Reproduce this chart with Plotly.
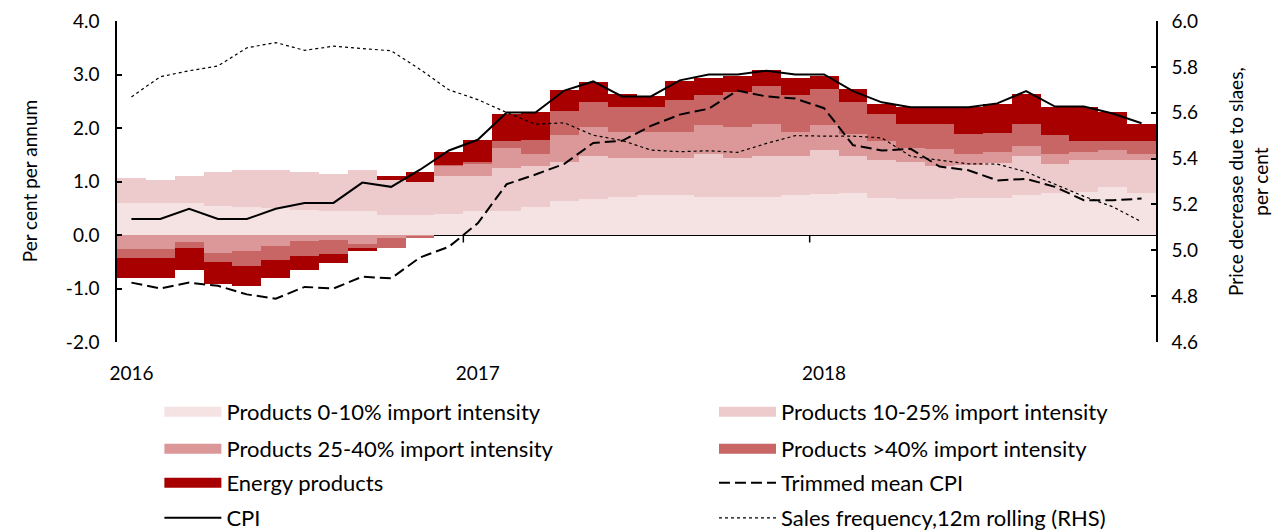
import plotly.graph_objects as go

# Monthly categories, Jan 2016 - Dec 2018
months = ['2016-01', '2016-02', '2016-03', '2016-04', '2016-05', '2016-06',
          '2016-07', '2016-08', '2016-09', '2016-10', '2016-11', '2016-12',
          '2017-01', '2017-02', '2017-03', '2017-04', '2017-05', '2017-06',
          '2017-07', '2017-08', '2017-09', '2017-10', '2017-11', '2017-12',
          '2018-01', '2018-02', '2018-03', '2018-04', '2018-05', '2018-06',
          '2018-07', '2018-08', '2018-09', '2018-10', '2018-11', '2018-12']

# Contributions (percentage points).
imp_0_10 = [0.60, 0.60, 0.60, 0.55, 0.52, 0.51, 0.47, 0.44, 0.44, 0.37, 0.37, 0.40,
            0.44, 0.44, 0.52, 0.63, 0.67, 0.71, 0.74, 0.74, 0.71, 0.71, 0.71, 0.74,
            0.77, 0.78, 0.70, 0.67, 0.67, 0.70, 0.70, 0.74, 0.78, 0.81, 0.89, 0.78]
imp_10_25 = [0.47, 0.43, 0.51, 0.63, 0.70, 0.71, 0.71, 0.70, 0.78, 0.66, 0.63, 0.71,
             0.67, 0.81, 0.77, 0.74, 0.80, 0.73, 0.70, 0.70, 0.81, 0.73, 0.76, 0.73,
             0.81, 0.70, 0.71, 0.70, 0.62, 0.60, 0.65, 0.73, 0.55, 0.60, 0.52, 0.63]
imp_25_40 = [-0.27, -0.27, -0.13, -0.33, -0.29, -0.21, -0.12, -0.09, -0.17, -0.06, -0.02, 0.18,
             0.22, 0.38, 0.23, 0.49, 0.54, 0.49, 0.49, 0.49, 0.53, 0.57, 0.61, 0.46,
             0.47, 0.41, 0.34, 0.26, 0.31, 0.22, 0.20, 0.20, 0.19, 0.14, 0.18, 0.11]
imp_40_up = [-0.16, -0.16, -0.12, -0.17, -0.29, -0.26, -0.27, -0.27, -0.08, -0.18, -0.03, 0.02,
             0.04, 0.12, 0.26, 0.45, 0.48, 0.46, 0.46, 0.60, 0.56, 0.67, 0.71, 0.68,
             0.67, 0.60, 0.52, 0.45, 0.48, 0.37, 0.35, 0.41, 0.34, 0.20, 0.16, 0.23]
energy = [-0.37, -0.37, -0.40, -0.41, -0.37, -0.33, -0.26, -0.17, -0.04, 0.07, 0.18, 0.24,
          0.41, 0.52, 0.51, 0.40, 0.37, 0.25, 0.21, 0.34, 0.33, 0.29, 0.29, 0.33,
          0.25, 0.23, 0.17, 0.31, 0.31, 0.50, 0.55, 0.56, 0.54, 0.64, 0.55, 0.33]

cpi = [0.30, 0.30, 0.49, 0.30, 0.30, 0.49, 0.60, 0.60, 0.98, 0.90, 1.22, 1.58,
       1.78, 2.29, 2.29, 2.70, 2.87, 2.59, 2.59, 2.89, 3.00, 3.00, 3.07, 3.00,
       3.00, 2.69, 2.48, 2.39, 2.39, 2.39, 2.46, 2.69, 2.40, 2.40, 2.27, 2.09]
trimmed_mean = [-0.89, -1.00, -0.89, -0.95, -1.11, -1.19, -0.97, -1.00, -0.78, -0.81, -0.42, -0.22,
                0.22, 0.95, 1.13, 1.33, 1.72, 1.76, 2.04, 2.25, 2.36, 2.70, 2.59, 2.55,
                2.37, 1.68, 1.58, 1.61, 1.28, 1.21, 1.02, 1.05, 0.90, 0.65, 0.65, 0.68]
# Sales frequency, 12m rolling (RHS)
sales_freq = [5.669, 5.757, 5.783, 5.804, 5.883, 5.906, 5.872, 5.890, 5.880, 5.870, 5.789, 5.700,
              5.657, 5.601, 5.550, 5.556, 5.502, 5.479, 5.437, 5.430, 5.434, 5.427, 5.466, 5.500,
              5.498, 5.498, 5.490, 5.410, 5.393, 5.377, 5.376, 5.342, 5.288, 5.235, 5.190, 5.124]

year_ticks = ['2016-01', '2017-01', '2018-01']
year_labels = ['2016', '2017', '2018']
left_ticks = [-2, -1, 0, 1, 2, 3, 4]
right_ticks = [4.6, 4.8, 5.0, 5.2, 5.4, 5.6, 5.8, 6.0]

bar_series = [
    ('Products 0-10% import intensity', imp_0_10, '#F5E3E3'),
    ('Products 10-25% import intensity', imp_10_25, '#EDCBCC'),
    ('Products 25-40% import intensity', imp_25_40, '#DC9898'),
    ('Products >40% import intensity', imp_40_up, '#C86565'),
    ('Energy products', energy, '#A80000'),
]

FONT = 'Lato, "DejaVu Sans", sans-serif'

# Legend grid: 2 columns x 4 rows, filled row by row (one small legend per entry).
col_x = [0.125, 0.560]
row_y = [0.2256, 0.156, 0.0921, 0.0263]
legend_ids = ['legend'] + [f'legend{i}' for i in range(2, 9)]

fig = go.Figure()

for name, vals, color in bar_series:
    fig.add_trace(go.Bar(x=months, y=vals, name=name, marker=dict(color=color, line=dict(width=0)),
                         showlegend=False, hoverinfo='skip'))

# Legend swatches (wide rectangles like the original).
for k, (name, _, color) in enumerate(bar_series):
    fig.add_trace(go.Scatter(x=[None], y=[None], mode='lines', name=name,
                             line=dict(color=color, width=14), legend=legend_ids[k]))

fig.add_trace(go.Scatter(x=months, y=trimmed_mean, mode='lines', name='Trimmed mean CPI',
                         line=dict(color='black', width=2, dash='11px,5px'), legend=legend_ids[5]))
fig.add_trace(go.Scatter(x=months, y=cpi, mode='lines', name='CPI',
                         line=dict(color='black', width=2), legend=legend_ids[6]))
fig.add_trace(go.Scatter(x=months, y=sales_freq, mode='lines', name='Sales frequency,12m rolling (RHS)',
                         line=dict(color='black', width=1.2, dash='dot'), yaxis='y2', legend=legend_ids[7]))

# Tick marks on the zero line at the year boundaries.
for t in year_ticks[1:]:
    xb = months.index(t) - 0.5
    fig.add_shape(type='line', xref='x', yref='y', x0=xb, x1=xb, y0=0, y1=-0.14,
                  line=dict(color='black', width=1.5))

# Axis titles
fig.add_annotation(text='Per cent per annum', xref='paper', yref='paper', x=-0.084, y=0.5,
                   xanchor='center', yanchor='middle', textangle=-90, showarrow=False,
                   font=dict(family=FONT, size=19, color='black'))
fig.add_annotation(text='Price decrease due to slaes,<br>per cent', xref='paper', yref='paper',
                   x=1.088, y=0.5, xanchor='center', yanchor='middle', textangle=-90,
                   showarrow=False, font=dict(family=FONT, size=19, color='black'))

legends = {}
for k, lid in enumerate(legend_ids):
    legends[lid] = dict(xref='container', yref='container', xanchor='left', yanchor='middle',
                        x=col_x[k % 2], y=row_y[k // 2], itemwidth=57,
                        bgcolor='rgba(0,0,0,0)', font=dict(family=FONT, size=22, color='black'))

fig.update_layout(
    width=1275, height=532,
    margin=dict(l=117, r=119, t=21, b=190, autoexpand=False),
    plot_bgcolor='white', paper_bgcolor='white',
    font=dict(family=FONT, size=19, color='black'),
    barmode='relative', bargap=0,
    xaxis=dict(type='category', range=[-0.5, len(months) - 0.5],
               tickvals=year_ticks, ticktext=year_labels, ticks='',
               showline=False, showgrid=False, zeroline=False, ticklabelstandoff=18),
    yaxis=dict(range=[-2, 4], tickvals=left_ticks, ticktext=[f'{v:.1f}' for v in left_ticks],
               ticks='inside', ticklen=5, tickwidth=1.5, tickcolor='black', ticklabelstandoff=12,
               showline=True, linecolor='black', linewidth=1.5,
               showgrid=False, zeroline=True, zerolinecolor='black', zerolinewidth=1.5),
    yaxis2=dict(overlaying='y', side='right', range=[4.6, 6.0],
                tickvals=right_ticks, ticktext=[f'{v:.1f}' for v in right_ticks],
                ticks='inside', ticklen=5, tickwidth=1.5, tickcolor='black', ticklabelstandoff=10,
                showline=True, linecolor='black', linewidth=1.5,
                showgrid=False, zeroline=False),
    **legends,
)

# Drop the default 8px page margin so the figure fills the window exactly.
fig.write_html('out.html', config={'displayModeBar': False},
               post_script="document.body.style.margin='0';")
